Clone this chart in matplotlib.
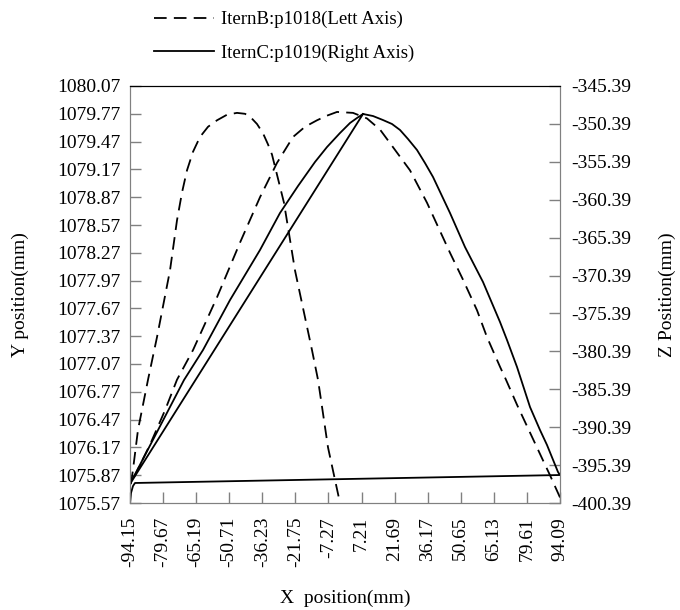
import matplotlib
matplotlib.use("Agg")
import matplotlib.pyplot as plt
from matplotlib.lines import Line2D

plt.rcParams['font.family'] = ['Liberation Serif', 'DejaVu Serif']

# IternB p1018 : X vs Y (left axis), dashed
x_b = [94.09, 89.71, 86.65, 80.96, 75.27, 70.45, 67.83, 62.13, 57.76, 51.63,
       45.94, 35.87, 28.43, 20.98, 15.29, 9.60, 3.47, -3.53, -7.91, -12.29,
       -17.54, -22.79, -29.80, -37.24, -45.99, -56.06, -66.57, -73.58, -78.83, -85.39,
       -91.96, -94.15,
       -93.71, -92.84, -90.65, -86.27, -82.33, -76.64, -73.58, -71.39, -69.20, -66.57,
       -63.51, -59.99, -56.06, -51.69, -47.31, -43.81, -41.62, -38.55, -35.93, -33.74,
       -31.99, -26.74, -21.92, -14.48, -11.85, -10.10, -7.47, -4.41, -2.22]
y_b = [1075.63, 1075.87, 1076.03, 1076.33, 1076.63, 1076.90, 1077.04, 1077.36, 1077.65, 1077.98,
       1078.27, 1078.81, 1079.16, 1079.41, 1079.60, 1079.72, 1079.78, 1079.79, 1079.75, 1079.70,
       1079.63, 1079.52, 1079.24, 1078.87, 1078.38, 1077.79, 1077.22, 1076.90, 1076.57, 1076.20,
       1075.87, 1075.78,
       1075.78, 1075.93, 1076.36, 1076.90, 1077.36, 1078.08, 1078.62, 1078.92, 1079.16, 1079.36,
       1079.52, 1079.63, 1079.70, 1079.76, 1079.78, 1079.77, 1079.74, 1079.66, 1079.56, 1079.44,
       1079.33, 1078.81, 1078.08, 1077.22, 1076.90, 1076.61, 1076.17, 1075.82, 1075.57]

# IternC p1019 : X vs Z (right axis), solid
x_c = [-94.15, -93.71, -92.84, -91.96, 94.09, 93.21, 88.40, 85.33, 80.96, 75.27,
       70.89, 67.83, 60.38, 52.50, 45.94, 38.50, 34.99, 31.49, 27.55, 24.05,
       20.54, 16.61, 12.23, 7.85, 5.22, 2.16, -2.22, -7.91, -13.16, -20.60,
       -28.49, -37.24, -50.37, -62.19, -70.51, -82.33, -94.15, 7.85]
z_c = [-400.39, -399.07, -398.15, -397.75, -396.70, -396.30, -392.74, -390.76, -387.73, -382.45,
       -378.89, -376.52, -371.24, -366.63, -362.14, -357.39, -355.55, -353.83, -352.38, -351.19,
       -350.40, -349.88, -349.35, -349.08, -349.61, -350.27, -351.59, -353.44, -355.41, -358.58,
       -362.14, -367.02, -373.62, -380.21, -384.17, -391.03, -397.88, -349.08]

x_ticks = [-94.15, -79.67, -65.19, -50.71, -36.23, -21.75, -7.27, 7.21, 21.69,
           36.17, 50.65, 65.13, 79.61, 94.09]
y_ticks = [1075.57, 1075.87, 1076.17, 1076.47, 1076.77, 1077.07, 1077.37, 1077.67,
           1077.97, 1078.27, 1078.57, 1078.87, 1079.17, 1079.47, 1079.77, 1080.07]
z_ticks = [-400.39, -395.39, -390.39, -385.39, -380.39, -375.39, -370.39, -365.39,
           -360.39, -355.39, -350.39, -345.39]

fig = plt.figure(figsize=(6.8, 6.1), dpi=100)
ax = fig.add_axes([130/680, 1-503/610, 430/680, 417/610])
ax2 = ax.twinx()

ax.plot(x_b, y_b, color='black', lw=1.3, linestyle=(0, (7, 4)))
ax2.plot(x_c, z_c, color='black', lw=1.3)

ax.set_xlim(-94.15, 94.09)
ax.set_ylim(1075.57, 1080.07)
ax2.set_ylim(-400.39, -345.39)

ax.set_xticks(x_ticks)
ax.set_xticklabels([f'{v:.2f}' for v in x_ticks], rotation=90)
ax.set_yticks(y_ticks)
ax.set_yticklabels([f'{v:.2f}' for v in y_ticks])
ax2.set_yticks(z_ticks)
ax2.set_yticklabels([f'{v:.2f}' for v in z_ticks])

ax.tick_params(axis='x', direction='in', length=8, width=1, color='#808080',
               labelsize=14, pad=10)
ax.tick_params(axis='y', direction='in', length=8, width=1, color='#808080',
               labelsize=14, pad=7)
ax2.tick_params(axis='y', direction='in', length=8, width=1, color='#808080',
                labelsize=14, pad=8)

for a in (ax, ax2):
    for s in ('left', 'right', 'bottom'):
        a.spines[s].set_color('#808080')
    a.spines['top'].set_color('black')

ax.set_xlabel('X  position(mm)', fontsize=14, labelpad=16)
ax.set_ylabel('Y position(mm)', fontsize=14, labelpad=20)
ax2.set_ylabel('Z Position(mm)', fontsize=14, labelpad=20)

handles = [Line2D([], [], color='black', lw=1.3, linestyle=(0, (7, 4))),
           Line2D([], [], color='black', lw=1.3)]
labels = ['IternB:p1018(Lett Axis)', 'IternC:p1019(Right Axis)']
fig.legend(handles, labels, loc='upper left', bbox_to_anchor=(154/680, 1-11/610),
           frameon=False, fontsize=13.5, handlelength=3.2, handletextpad=0.35,
           labelspacing=0.85, borderpad=0, borderaxespad=0)

fig.savefig('out.png', dpi=100)
